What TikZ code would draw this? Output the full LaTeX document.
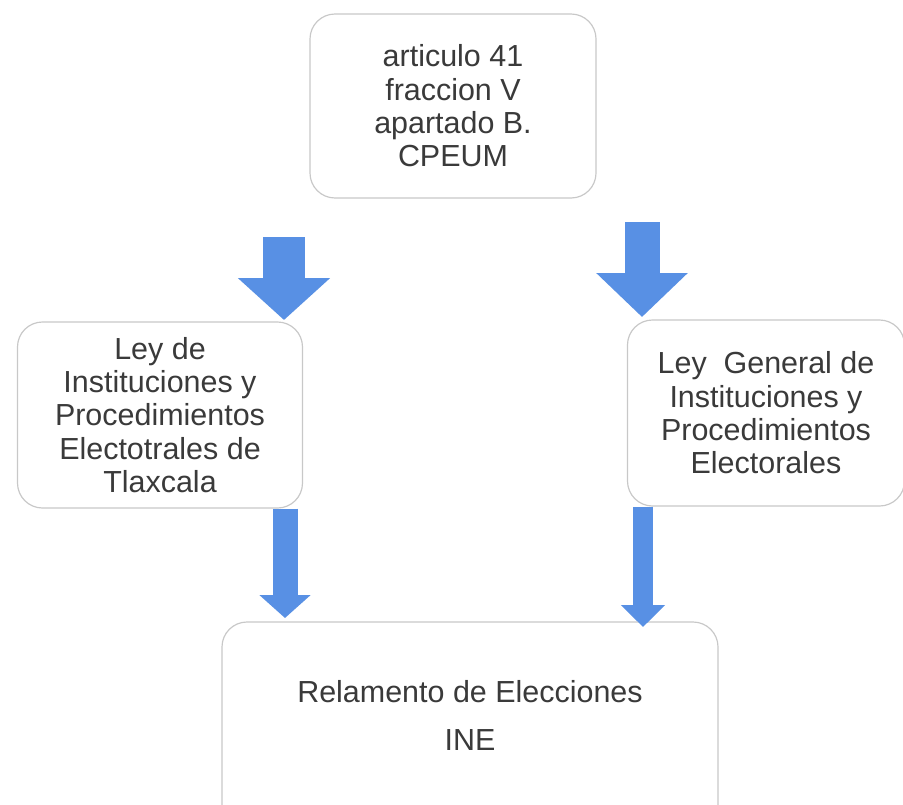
\documentclass[tikz,border=0pt]{standalone}
\usepackage{fontspec}
\setmainfont{Liberation Sans}
\usetikzlibrary{arrows.meta}

\definecolor{arrowblue}{RGB}{88,144,228}
\definecolor{boxline}{RGB}{200,200,200}
\definecolor{txtgray}{RGB}{58,58,58}

\tikzset{
  normabox/.style={draw=boxline,line width=1pt,rounded corners=0.75cm,
    fill=white,align=center,text=txtgray,
    font=\fontsize{26}{28.5}\selectfont,inner sep=0pt},
  flecha/.style={draw=arrowblue,line cap=butt}
}

\begin{document}
\begin{tikzpicture}[x=0.03cm,y=-0.03cm]
\useasboundingbox[fill=white] (0,0) rectangle (903,804);

\node[normabox,minimum width=8.58cm,minimum height=5.52cm] (cpeum) at (453,106)
  {articulo 41\\fraccion V\\apartado B.\\CPEUM};
\node[normabox,minimum width=8.55cm,minimum height=5.58cm] (lipet) at (160,415)
  {Ley de\\Instituciones y\\Procedimientos\\Electotrales de\\Tlaxcala};
\node[normabox,minimum width=8.31cm,minimum height=5.58cm] (lgipe) at (766,413)
  {Ley\ \ General de\\Instituciones y\\Procedimientos\\Electorales};
\node[normabox,minimum width=14.88cm,minimum height=6.6cm] (rei) at (470,732)
  {Relamento de Elecciones\\[0.42cm]INE\\\mbox{}};

\coordinate (f1a) at (284,237);
\coordinate (f1b) at (284,320);
\coordinate (f2a) at (642,222);
\coordinate (f2b) at (642,317);
\coordinate (f3a) at (lipet.south -| 285,0);
\coordinate (f3b) at (285,618);
\coordinate (f4a) at (lgipe.south -| 643,0);
\coordinate (f4b) at (643,627);

\draw[flecha,line width=1.26cm,-{Triangle[width=2.7cm,length=1.26cm]}] (f1a)--(f1b);
\draw[flecha,line width=1.05cm,-{Triangle[width=2.67cm,length=1.32cm]}] (f2a)--(f2b);
\draw[flecha,line width=0.75cm,-{Triangle[width=1.5cm,length=0.69cm]}] (f3a)--(f3b);
\draw[flecha,line width=0.6cm,-{Triangle[width=1.29cm,length=0.66cm]}] (f4a)--(f4b);

\end{tikzpicture}
\end{document}
